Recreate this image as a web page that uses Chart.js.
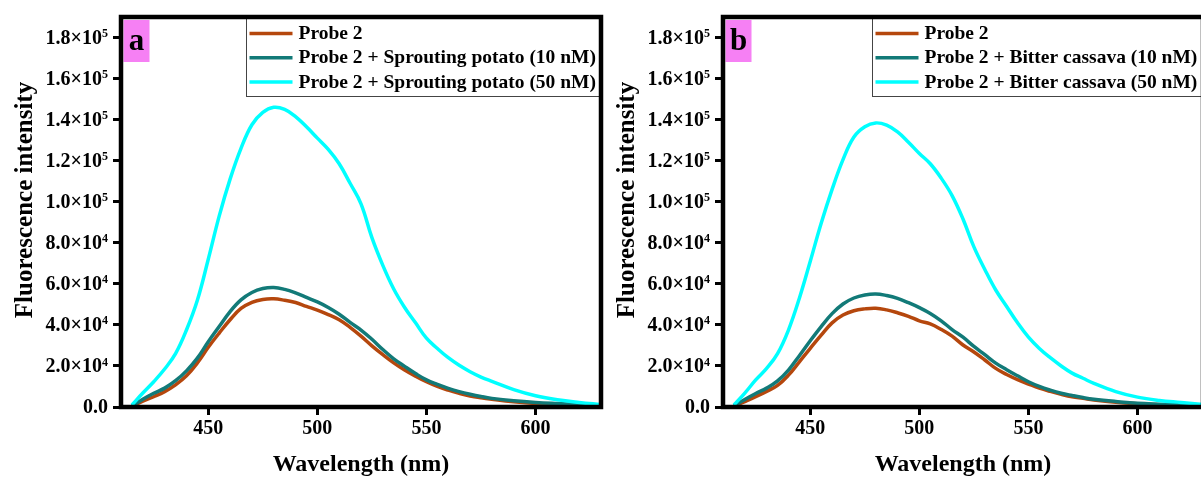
<!DOCTYPE html>
<html>
<head>
<meta charset="utf-8">
<script src="https://cdn.jsdelivr.net/npm/chart.js@4.4.1/dist/chart.umd.min.js"></script>
<style>
  html, body { margin: 0; padding: 0; background: #fff; }
  body { position: relative; width: 1201px; height: 481px; overflow: hidden; }
  .panel { position: absolute; top: 0; width: 615px; height: 481px; }
  #panelA { left: 0; }
  #panelB { left: 602px; }
</style>
</head>
<body>
<div class="panel" id="panelA"><canvas id="chartA" width="615" height="481"></canvas></div>
<div class="panel" id="panelB"><canvas id="chartB" width="615" height="481"></canvas></div>
<script>
// --------------------
// Emission spectra (nm / a.u.)
// --------------------
const wavelengths = [415, 420, 425, 430, 435, 440, 445, 450, 455, 460, 465, 470, 475, 480, 485, 490, 495, 500,
    505, 510, 515, 520, 525, 530, 535, 540, 545, 550, 555, 560, 565, 570, 575, 580, 590, 600, 610, 620, 630];

const potatoProbe = [300, 2800, 5000, 7500, 10800, 15200, 21500, 29100, 36000, 42500, 48000, 51000, 52400, 52700,
    52000, 50900, 49000, 47200, 45000, 42500, 38800, 34500, 29800, 25500, 21500, 18000, 15000, 12300, 10000, 8200,
    6700, 5400, 4500, 3800, 2600, 1700, 1200, 900, 700];
const potato10 = [500, 3800, 6700, 9200, 12800, 17600, 23800, 31800, 39200, 46500, 52200, 55800, 57700, 58200,
    57300, 55600, 53400, 51200, 48500, 45200, 41200, 37500, 33000, 28000, 23500, 19800, 16300, 13200, 11000, 9100,
    7500, 6200, 5100, 4200, 3000, 2200, 1700, 1300, 1000];
const potato50 = [1000, 6800, 12300, 18500, 26000, 37500, 52000, 72000, 93000, 111000, 126000, 137500, 143500, 146000,
    145000, 141500, 136500, 131000, 125500, 118500, 109000, 99000, 82500, 69000, 57500, 48500, 41000, 33500, 28500,
    24000, 20300, 17200, 14600, 12500, 8500, 5500, 3500, 2200, 1200];

const cassavaProbe = [300, 2600, 5000, 7600, 10500, 15500, 22000, 28600, 35000, 41000, 44800, 46900, 47800, 48100,
    47300, 45900, 44200, 42000, 40500, 37800, 34500, 30200, 26800, 22900, 18800, 15800, 13300, 11200, 9200, 7600,
    6200, 5000, 4200, 3400, 2300, 1600, 1100, 900, 700];
const cassava10 = [500, 3700, 6600, 9200, 12700, 18000, 25000, 32300, 39200, 45500, 50200, 53100, 54600, 55100,
    54300, 52900, 50800, 48400, 45600, 42000, 37700, 34000, 29500, 25500, 21400, 18200, 15200, 12300, 10000, 8200,
    6700, 5600, 4600, 3800, 2700, 1800, 1400, 1100, 900];
const cassava50 = [1000, 6800, 13200, 18800, 26000, 37500, 53000, 71000, 89500, 106000, 120500, 131500, 136500, 138400,
    137300, 134000, 129000, 123500, 118500, 111500, 103000, 91600, 78000, 67000, 57000, 49000, 41000, 34000, 28500,
    24000, 20000, 16500, 14000, 11500, 7500, 4800, 3200, 2200, 1200];

const xTicks = [450, 500, 550, 600];
const yTicks = [0, 20000, 40000, 60000, 80000, 100000, 120000, 140000, 160000, 180000];

const FONT = "'Liberation Serif', 'Times New Roman', serif";
const COLOR = {
    PROBE: '#b5470d',
    LOW: '#127a78',
    HIGH: '#00ffff',
    TAG: '#f680f4',
};

function toPoints(values) {
    return wavelengths.map((w, i) => ({ x: w, y: values[i] }));
}

function sciParts(value) {
    if (value === 0) return { base: '0.0', exp: '' };
    const exp = Math.floor(Math.log10(value));
    const mant = (value / Math.pow(10, exp)).toFixed(1);
    return { base: mant + '×10', exp: String(exp) };
}

// frame, panel tag, legend box and a×10^n tick labels
const panelDecor = {
    id: 'panelDecor',
    afterDraw(chart, args, opts) {
        const { ctx, chartArea: area } = chart;
        const yScale = chart.scales.y;
        ctx.save();

        // y tick labels with superscript exponent
        ctx.fillStyle = '#000';
        ctx.textBaseline = 'middle';
        yScale.ticks.forEach((t) => {
            const py = yScale.getPixelForValue(t.value);
            const parts = sciParts(t.value);
            const right = area.left - 13;
            ctx.textAlign = 'right';
            let supW = 0;
            if (parts.exp) {
                ctx.font = `bold 12px ${FONT}`;
                supW = ctx.measureText(parts.exp).width;
                ctx.fillText(parts.exp, right, py - 3.5);
            }
            ctx.font = `bold 20px ${FONT}`;
            ctx.fillText(parts.base, right - supW, py + 1);
        });

        // y axis title
        ctx.save();
        ctx.translate(26, 200);
        ctx.rotate(-Math.PI / 2);
        ctx.textAlign = 'center';
        ctx.textBaseline = 'middle';
        ctx.font = `bold 25px ${FONT}`;
        ctx.fillText('Fluorescence intensity', 0, 0);
        ctx.restore();

        // legend
        ctx.font = `bold 19.5px ${FONT}`;
        const sets = chart.data.datasets;
        const textW = Math.max(...sets.map(d => ctx.measureText(d.label).width));
        const boxRight = area.right;
        const boxLeft = Math.round(boxRight - textW - 58) + 0.5;
        const boxTop = area.top;
        const boxBottom = area.top + 79.5;
        ctx.fillStyle = '#fff';
        ctx.fillRect(boxLeft, boxTop, boxRight - boxLeft, boxBottom - boxTop);
        ctx.strokeStyle = '#444';
        ctx.lineWidth = 1;
        ctx.strokeRect(boxLeft, boxTop, boxRight - boxLeft, boxBottom - boxTop);
        sets.forEach((d, i) => {
            const y = boxTop + 16.5 + i * 24.3;
            ctx.strokeStyle = d.borderColor;
            ctx.lineWidth = 3.5;
            ctx.beginPath();
            ctx.moveTo(boxLeft + 3, y);
            ctx.lineTo(boxLeft + 46, y);
            ctx.stroke();
            ctx.fillStyle = '#000';
            ctx.textAlign = 'left';
            ctx.textBaseline = 'middle';
            ctx.fillText(d.label, boxLeft + 52, y + 0.5);
        });

        // panel tag
        ctx.fillStyle = COLOR.TAG;
        ctx.fillRect(area.left + 2.5, area.top + 3, 26, 42);
        ctx.fillStyle = '#000';
        ctx.font = `bold 31px ${FONT}`;
        ctx.textAlign = 'center';
        ctx.textBaseline = 'alphabetic';
        ctx.fillText(opts.tag, area.left + 15.5, area.top + 33);

        // plot frame
        ctx.strokeStyle = '#000';
        ctx.lineWidth = 4.5;
        ctx.strokeRect(area.left, area.top, area.right - area.left, area.bottom - area.top);

        ctx.restore();
    }
};

function buildChart(canvasId, tag, labels, series) {
    const colors = [COLOR.PROBE, COLOR.LOW, COLOR.HIGH];
    const datasets = series.map((values, i) => ({
        label: labels[i],
        data: toPoints(values),
        borderColor: colors[i],
        borderWidth: 3.5,
        pointRadius: 0,
        fill: false,
        tension: 0.4,
        order: 2 - i,
    }));

    return new Chart(document.getElementById(canvasId), {
        type: 'line',
        data: { datasets },
        plugins: [panelDecor],
        options: {
            responsive: false,
            animation: false,
            events: [],
            layout: { padding: { left: 0, top: 17, right: 14, bottom: 0 } },
            plugins: {
                legend: { display: false },
                tooltip: { enabled: false },
                panelDecor: { tag },
            },
            scales: {
                x: {
                    type: 'linear',
                    min: 410,
                    max: 630,
                    afterBuildTicks: (scale) => { scale.ticks = xTicks.map(v => ({ value: v })); },
                    afterFit: (scale) => { scale.height = 74; },
                    border: { display: false },
                    grid: { drawOnChartArea: false, drawTicks: true, tickLength: 8, lineWidth: 3, color: '#000' },
                    ticks: {
                        padding: 2,
                        color: '#000',
                        font: { family: FONT, size: 20, weight: 'bold' },
                        callback: (v) => String(v),
                    },
                    title: {
                        display: true,
                        text: 'Wavelength (nm)',
                        color: '#000',
                        font: { family: FONT, size: 24, weight: 'bold' },
                        padding: { top: 0, bottom: 2 },
                    },
                },
                y: {
                    min: 0,
                    max: 190000,
                    afterBuildTicks: (scale) => { scale.ticks = yTicks.map(v => ({ value: v })); },
                    afterFit: (scale) => { scale.width = 121; },
                    border: { display: false },
                    grid: { drawOnChartArea: false, drawTicks: true, tickLength: 8, lineWidth: 3, color: '#000' },
                    ticks: { display: false },
                },
            },
        },
    });
}

buildChart('chartA', 'a',
    ['Probe 2', 'Probe 2 + Sprouting potato (10 nM)', 'Probe 2 + Sprouting potato (50 nM)'],
    [potatoProbe, potato10, potato50]);

buildChart('chartB', 'b',
    ['Probe 2', 'Probe 2 + Bitter cassava (10 nM)', 'Probe 2 + Bitter cassava (50 nM)'],
    [cassavaProbe, cassava10, cassava50]);
</script>
</body>
</html>
